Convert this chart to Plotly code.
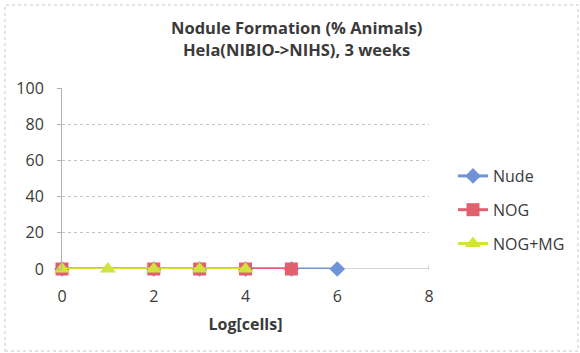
import plotly.graph_objects as go

# Nodule formation data (% animals) against log10 cell count
nude_x = [0, 2, 3, 4, 5, 6]
nude_y = [0, 0, 0, 0, 0, 0]
nog_x = [0, 2, 3, 4, 5]
nog_y = [0, 0, 0, 0, 0]
nogmg_x = [0, 1, 2, 3, 4]
nogmg_y = [0, 0, 0, 0, 0]

x_ticks = [0, 2, 4, 6, 8]
y_ticks = [0, 20, 40, 60, 80, 100]

title_lines = ["Nodule Formation (% Animals)", "Hela(NIBIO->NIHS), 3 weeks"]

font_family = "Open Sans, Liberation Sans, sans-serif"
text_color = "#3a3a3a"

fig = go.Figure()
fig.add_trace(go.Scatter(
    x=nude_x, y=nude_y, name="Nude", legendgroup="a", mode="lines+markers",
    line=dict(color="#6f93d6", width=3),
    marker=dict(symbol="diamond", size=12, color="#6f93d6"),
    cliponaxis=False,
))
fig.add_trace(go.Scatter(
    x=nog_x, y=nog_y, name="NOG", legendgroup="b", mode="lines+markers",
    line=dict(color="#e0606e", width=3),
    marker=dict(symbol="square", size=13, color="#e0606e"),
    cliponaxis=False,
))
fig.add_trace(go.Scatter(
    x=nogmg_x, y=nogmg_y, name="NOG+MG", legendgroup="c", mode="lines+markers",
    line=dict(color="#d2e23e", width=3),
    marker=dict(symbol="triangle-up", size=14, color="#d2e23e"),
    cliponaxis=False,
))

W, H = 580, 353
L, R, T, B = 62, 151, 88, 84
pw, ph = W - L - R, H - T - B

def px_x(p):
    return (p - L) / pw

def px_y(p):
    return (H - B - p) / ph

fig.update_layout(
    width=W, height=H,
    margin=dict(l=L, r=R, t=T, b=B, autoexpand=False),
    paper_bgcolor="white", plot_bgcolor="white",
    font=dict(family=font_family, color=text_color, size=16),
    xaxis=dict(
        range=[0, 8], tickvals=x_ticks, showgrid=False, zeroline=False,
        showline=False, ticks="", tickfont=dict(size=16),
        ticklabelstandoff=16,
        title=dict(text="<b>Log[cells]</b>", font=dict(size=16), standoff=12),
    ),
    yaxis=dict(
        range=[0, 100], tickvals=y_ticks, showgrid=True,
        gridcolor="#c4c4c4", griddash="dot", gridwidth=1,
        zeroline=False, showline=True, linecolor="#b0b0b0", linewidth=1,
        ticks="outside", ticklen=4, tickcolor="#b0b0b0",
        ticklabelstandoff=10,
        tickfont=dict(size=16),
    ),
    legend=dict(
        xref="container", yref="container",
        x=453 / W, y=1 - 159 / H, xanchor="left", yanchor="top",
        font=dict(size=16), tracegroupgap=10, itemwidth=30,
        bgcolor="rgba(0,0,0,0)",
    ),
    showlegend=True,
)

# two-line bold chart title
for i, (line_text, y_px) in enumerate(zip(title_lines, [27, 49])):
    fig.add_annotation(
        text=f"<b>{line_text}</b>", xref="paper", yref="paper",
        x=px_x(296), y=px_y(y_px), xanchor="center", yanchor="middle",
        showarrow=False, font=dict(size=16.5, color=text_color),
    )

# baseline along y = 0
fig.add_shape(type="line", xref="x", yref="y", x0=0, x1=8, y0=0, y1=0,
              line=dict(color="#a8a8a8", width=1), layer="below")
fig.add_shape(type="line", xref="x", yref="y", x0=8, x1=8, y0=0, y1=2,
              line=dict(color="#a8a8a8", width=1), layer="below")

# chart outer frame
fig.add_shape(type="rect", xref="paper", yref="paper",
              x0=px_x(5), x1=px_x(578), y0=px_y(351), y1=px_y(5),
              line=dict(color="#c8c8c8", width=1, dash="dot"))

fig.write_html("out.html")
